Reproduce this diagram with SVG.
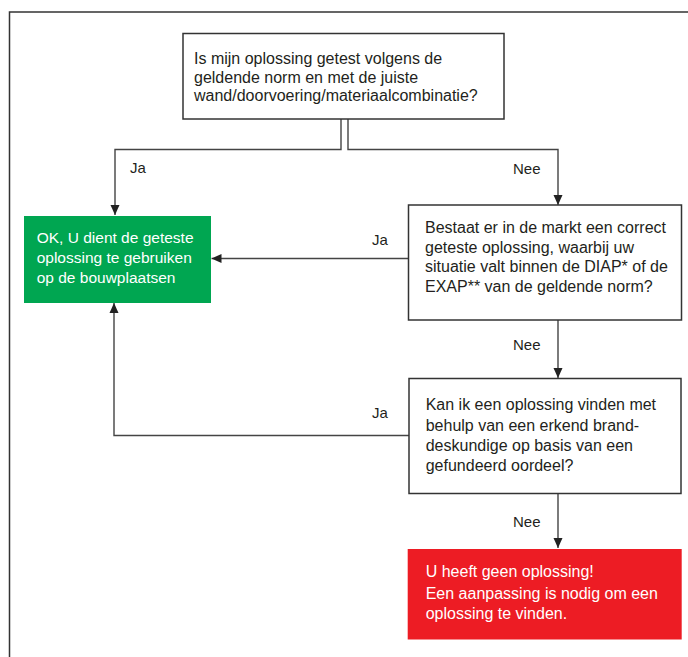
<svg xmlns="http://www.w3.org/2000/svg" width="688" height="657" viewBox="0 0 688 657">
<style>
.frame{fill:none;stroke:#333;stroke-width:1.5}
.box{fill:#fff;stroke:#333;stroke-width:1.5}
.t{font-family:"Liberation Sans",Arial,sans-serif;font-size:16px;fill:#231f20}
.w{font-family:"Liberation Sans",Arial,sans-serif;font-size:16px;fill:#fff}
.lbl{font-family:"Liberation Sans",Arial,sans-serif;font-size:15px;fill:#231f20}
.c{fill:none;stroke:#444;stroke-width:1.4}
</style>
<defs>
<marker id="ah" markerUnits="userSpaceOnUse" markerWidth="10" markerHeight="10" viewBox="0 0 10 10" refX="10" refY="5" orient="auto">
<path d="M0,0.5 L10,5 L0,9.5 Z" fill="#222"/>
</marker>
</defs>
<rect width="688" height="657" fill="#fff"/>
<path class="frame" d="M9.5,657 V12 H688"/>
<g id="connectors">
<path class="c" d="M341,119 V149.5 H115 V215" marker-end="url(#ah)"/>
<path class="c" d="M348,119 V149.5 H558 V205" marker-end="url(#ah)"/>
<path class="c" d="M408.5,258.5 H211.5" marker-end="url(#ah)"/>
<path class="c" d="M558,320 V378" marker-end="url(#ah)"/>
<path class="c" d="M409,435.5 H114 V303" marker-end="url(#ah)"/>
<path class="c" d="M558,493 V548" marker-end="url(#ah)"/>
<text class="lbl" x="130" y="173">Ja</text>
<text class="lbl" x="513" y="174">Nee</text>
<text class="lbl" x="372" y="245">Ja</text>
<text class="lbl" x="513" y="350">Nee</text>
<text class="lbl" x="372" y="418">Ja</text>
<text class="lbl" x="513" y="527">Nee</text>
</g>
<g id="q1">
<rect class="box" x="183" y="33.5" width="321" height="85.5"/>
<text class="t" x="194" y="64.3">Is mijn oplossing getest volgens de</text>
<text class="t" x="194" y="82.6">geldende norm en met de juiste</text>
<text class="t" x="194" y="101">wand/doorvoering/materiaalcombinatie?</text>
</g>
<g id="ok">
<rect x="24" y="216" width="187" height="87" fill="#00a651"/>
<text class="w" x="36.7" y="243" style="font-size:15.5px">OK, U dient de geteste</text>
<text class="w" x="36.7" y="263.3" style="font-size:15.5px">oplossing te gebruiken</text>
<text class="w" x="36.7" y="283.3" style="font-size:15.5px">op de bouwplaatsen</text>
</g>
<g id="q2">
<rect class="box" x="408.5" y="205" width="273" height="115"/>
<text class="t" x="425" y="233.3">Bestaat er in de markt een correct</text>
<text class="t" x="425" y="252.5">geteste oplossing, waarbij uw</text>
<text class="t" x="425" y="272.2">situatie valt binnen de DIAP* of de</text>
<text class="t" x="425" y="291.7">EXAP** van de geldende norm?</text>
</g>
<g id="q3">
<rect class="box" x="409" y="378.5" width="272" height="115"/>
<text class="t" x="425.7" y="410">Kan ik een oplossing vinden met</text>
<text class="t" x="425.7" y="430.7">behulp van een erkend brand-</text>
<text class="t" x="425.7" y="451">deskundige op basis van een</text>
<text class="t" x="425.7" y="470.7">gefundeerd oordeel?</text>
</g>
<g id="no">
<rect x="407.7" y="549" width="274" height="90.5" fill="#ed1c24"/>
<text class="w" x="425.7" y="577.3">U heeft geen oplossing!</text>
<text class="w" x="425.7" y="598.7">Een aanpassing is nodig om een</text>
<text class="w" x="425.7" y="619">oplossing te vinden.</text>
</g>
</svg>
